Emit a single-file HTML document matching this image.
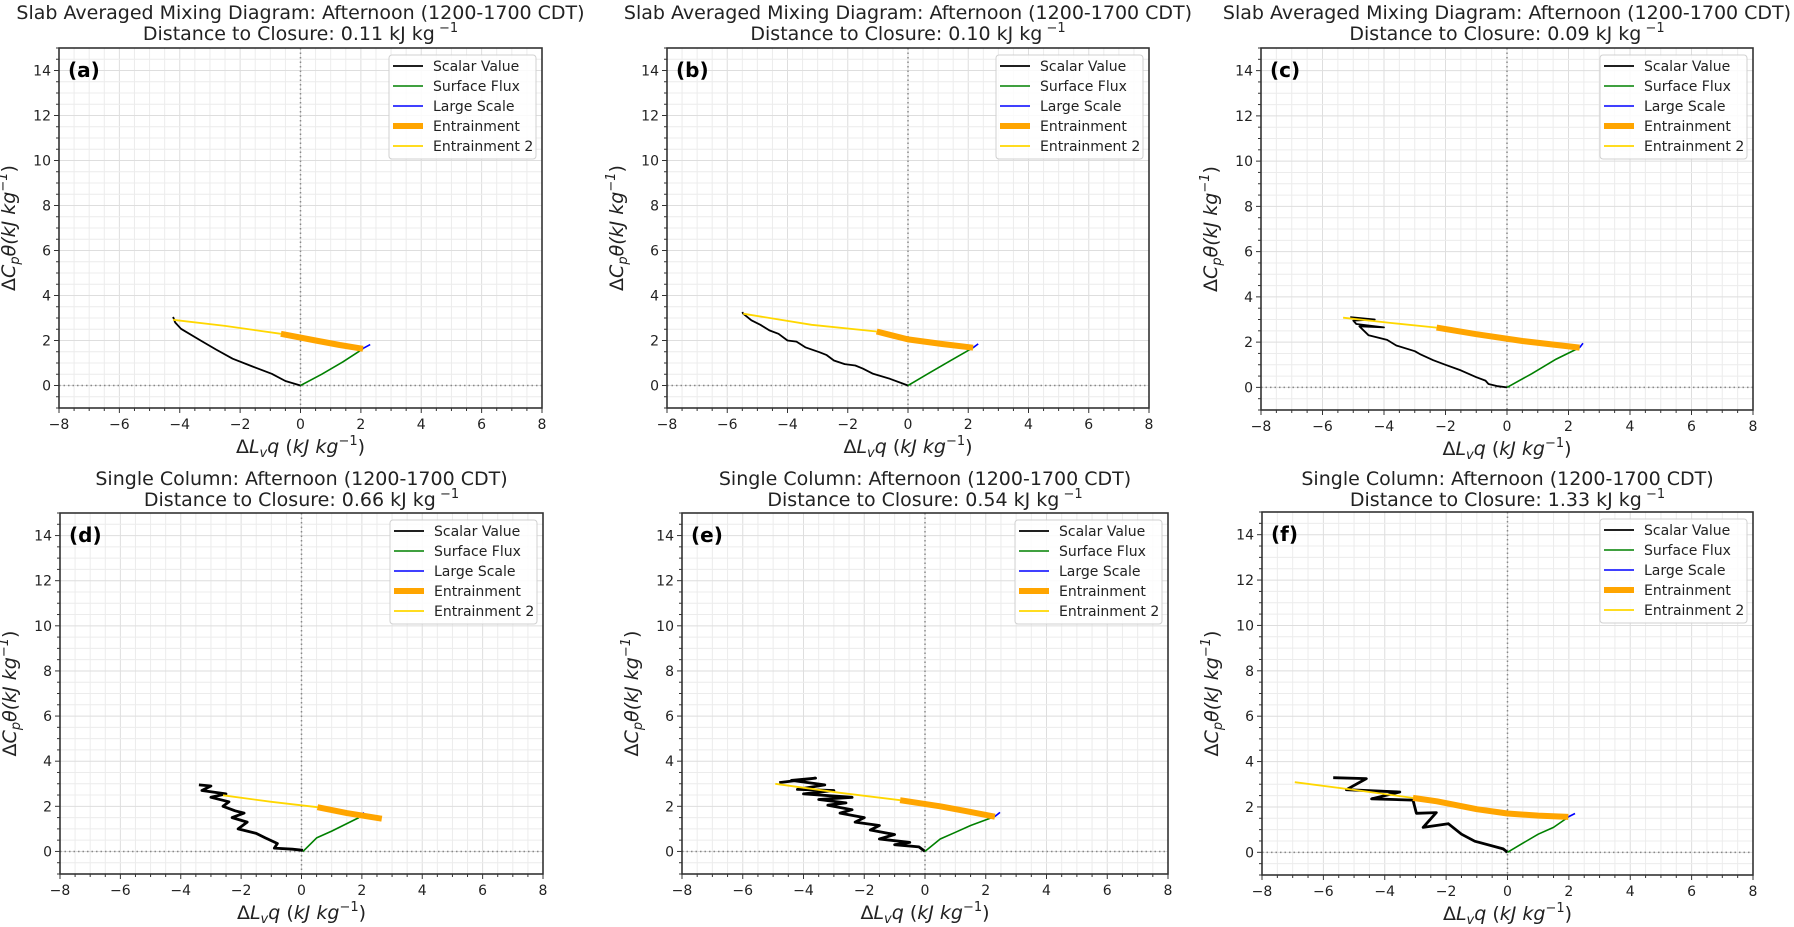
<!DOCTYPE html>
<html><head><meta charset="utf-8"><style>
html,body{margin:0;padding:0;background:#fff;}
svg{display:block;font-family:"DejaVu Sans","Liberation Sans",sans-serif;}
</style></head>
<body>
<svg id="fig" xmlns="http://www.w3.org/2000/svg" width="1794" height="927" viewBox="0 0 1794 927"></svg>
<script>
// ---- data (x = ΔLvq, y = ΔCpθ, kJ/kg) ----
const panelIds = ["a","b","c","d","e","f"];
const closureValues = ["0.11","0.10","0.09","0.66","0.54","1.33"];
const xTicks = [-8,-6,-4,-2,0,2,4,6,8];
const yTicks = [0,2,4,6,8,10,12,14];
const legendLabels = ["Scalar Value","Surface Flux","Large Scale","Entrainment","Entrainment 2"];

const scalarA = [[0,0],[-0.5,0.2],[-0.95,0.52],[-1.6,0.85],[-2.25,1.19],[-2.8,1.6],[-3.31,2.0],[-3.96,2.52],[-4.15,2.8],[-4.22,3.05]];
const surfaceA = [[0,0],[0.7,0.5],[1.4,1.05],[2.07,1.63]];
const largeA = [[2.07,1.65],[2.31,1.82]];
const entrA = [[-0.65,2.3],[0.5,2.0],[1.3,1.8],[2.07,1.63]];
const entr2A = [[-4.22,2.92],[-2.5,2.65],[-0.65,2.3]];

const scalarB = [[0,0],[-0.6,0.3],[-1.16,0.52],[-1.5,0.75],[-1.75,0.89],[-2.1,0.95],[-2.46,1.11],[-2.7,1.35],[-2.94,1.48],[-3.41,1.7],[-3.7,1.95],[-4.0,2.0],[-4.3,2.3],[-4.6,2.45],[-4.9,2.7],[-5.2,2.9],[-5.47,3.19],[-5.5,3.26]];
const surfaceB = [[0,0],[0.7,0.55],[1.4,1.1],[2.16,1.68]];
const largeB = [[2.16,1.68],[2.33,1.85]];
const entrB = [[-1.04,2.4],[0,2.05],[1.1,1.85],[2.16,1.68]];
const entr2B = [[-5.47,3.19],[-3.2,2.7],[-1.04,2.4]];

const scalarC = [[0,0],[-0.3,0.05],[-0.6,0.15],[-0.7,0.3],[-1.0,0.45],[-1.5,0.75],[-2.0,1.0],[-2.4,1.2],[-2.8,1.45],[-3.0,1.6],[-3.6,1.85],[-3.9,2.1],[-4.5,2.3],[-4.8,2.7],[-4.0,2.65],[-4.9,2.8],[-5.0,2.95],[-4.3,3.0],[-5.1,3.1]];
const surfaceC = [[0,0],[0.8,0.6],[1.6,1.25],[2.36,1.76]];
const largeC = [[2.36,1.76],[2.47,1.95]];
const entrC = [[-2.29,2.64],[-1.0,2.35],[0.5,2.05],[2.36,1.76]];
const entr2C = [[-5.33,3.08],[-3.8,2.85],[-2.29,2.64]];

const scalarD = [[0.05,0.05],[-0.3,0.1],[-0.9,0.15],[-0.8,0.35],[-1.2,0.6],[-1.5,0.8],[-2.1,1.0],[-1.8,1.3],[-2.3,1.5],[-1.9,1.7],[-2.2,1.8],[-2.6,2.0],[-2.4,2.2],[-3.0,2.4],[-2.5,2.55],[-3.3,2.7],[-3.0,2.9],[-3.4,2.95]];
const surfaceD = [[0.05,0],[0.5,0.6],[1.0,0.9],[1.9,1.5]];
const largeD = [[1.9,1.55],[2.07,1.72]];
const entrD = [[0.53,1.96],[1.5,1.7],[2.66,1.45]];
const entr2D = [[-2.6,2.49],[-1.0,2.2],[0.53,1.96]];

const scalarE = [[0,0],[-0.2,0.2],[-1.0,0.3],[-0.5,0.4],[-1.5,0.55],[-1.0,0.75],[-1.8,0.95],[-1.5,1.15],[-2.3,1.3],[-2.0,1.5],[-2.8,1.7],[-2.4,1.85],[-3.2,2.05],[-2.6,2.15],[-3.5,2.3],[-2.4,2.4],[-4.0,2.55],[-3.0,2.7],[-4.2,2.75],[-3.3,2.95],[-4.4,3.15],[-3.6,3.25],[-4.8,3.05]];
const surfaceE = [[0,0],[0.5,0.55],[1.0,0.85],[1.5,1.15],[2.3,1.55]];
const largeE = [[2.3,1.55],[2.47,1.73]];
const entrE = [[-0.82,2.27],[0.5,2.0],[1.3,1.8],[2.3,1.54]];
const entr2E = [[-4.93,3.0],[-2.8,2.6],[-0.82,2.27]];

const scalarF = [[0,0],[-0.14,0.15],[-1.07,0.49],[-1.5,0.8],[-1.93,1.26],[-2.75,1.1],[-2.32,1.75],[-2.97,1.72],[-3.08,2.3],[-4.43,2.36],[-3.51,2.66],[-5.25,2.76],[-4.6,3.25],[-5.68,3.29]];
const surfaceF = [[0,0],[0.5,0.4],[1.0,0.8],[1.5,1.1],[1.98,1.55]];
const largeF = [[1.98,1.56],[2.2,1.71]];
const entrF = [[-3.08,2.4],[-2.3,2.25],[-1.0,1.9],[0,1.71],[1.0,1.62],[1.98,1.56]];
const entr2F = [[-6.93,3.09],[-5.0,2.75],[-3.08,2.4]];

const scalarSets = [scalarA,scalarB,scalarC,scalarD,scalarE,scalarF];
const surfaceSets = [surfaceA,surfaceB,surfaceC,surfaceD,surfaceE,surfaceF];
const largeSets = [largeA,largeB,largeC,largeD,largeE,largeF];
const entrSets = [entrA,entrB,entrC,entrD,entrE,entrF];
const entr2Sets = [entr2A,entr2B,entr2C,entr2D,entr2E,entr2F];

// ---- layout ----
const layout = [
 {l:59,r:542,t:48,b:408,row:0},
 {l:667,r:1149,t:48,b:408,row:0},
 {l:1261,r:1753,t:48,b:410,row:0},
 {l:60,r:543,t:513,b:874,row:1},
 {l:682,r:1168,t:513,b:874,row:1},
 {l:1262,r:1753,t:512,b:875,row:1}
];
const NS = "http://www.w3.org/2000/svg";
const svg = document.getElementById("fig");
function mk(tag, parent, attrs){
  const e = document.createElementNS(NS, tag);
  for (const k in attrs) e.setAttribute(k, attrs[k]);
  parent.appendChild(e);
  return e;
}
function fmt(v){ return v < 0 ? "\u2212" + Math.abs(v) : String(v); }

layout.forEach((L, i) => {
  const g = mk("g", svg, {});
  
  
  const sx = v => L.l + (v + 8) / 16 * (L.r - L.l);
  const sy = v => L.b - (v + 1) / 16 * (L.b - L.t);

  const grid = mk("g", g, {});
  
  
  for (let v = -8; v <= 8.001; v += 0.5) {
    const major = Math.abs(v % 2) < 1e-6;
    mk("line", grid, {x1:sx(v),x2:sx(v),y1:L.t,y2:L.b,stroke:major?"#dedede":"#ececec","stroke-width":1});
  }
  for (let v = -1; v <= 15.001; v += 0.5) {
    const major = Math.abs(v % 2) < 1e-6;
    mk("line", grid, {x1:L.l,x2:L.r,y1:sy(v),y2:sy(v),stroke:major?"#dedede":"#ececec","stroke-width":1});
  }
  const zx = mk("line", g, {x1:sx(0),x2:sx(0),y1:L.t,y2:L.b,stroke:"#888","stroke-width":1.5,"stroke-dasharray":"1.5,3"});
  
  
  const zy = mk("line", g, {x1:L.l,x2:L.r,y1:sy(0),y2:sy(0),stroke:"#888","stroke-width":1.5,"stroke-dasharray":"1.5,3"});
  
  

  const bottom = L.row === 1;
  const series = [
    {d:scalarSets[i], c:"#000000", w: bottom ? 2.8 : 1.8, n:"scalar-value-line"},
    {d:surfaceSets[i], c:"#008000", w:1.6, n:"surface-flux-line"},
    {d:largeSets[i], c:"#0000ff", w:1.6, n:"large-scale-line"},
    {d:entrSets[i], c:"#ffa500", w:6, n:"entrainment-line"},
    {d:entr2Sets[i], c:"#ffd700", w:1.8, n:"entrainment-2-line"}
  ];
  series.forEach(s => {
    const p = mk("polyline", g, {points: s.d.map(q => sx(q[0]).toFixed(1)+","+sy(q[1]).toFixed(1)).join(" "), fill:"none", stroke:s.c, "stroke-width":s.w, "stroke-linejoin":"round", "stroke-linecap":"butt"});
    
    
  });

  const fr = mk("rect", g, {x:L.l,y:L.t,width:L.r-L.l,height:L.b-L.t,fill:"none",stroke:"#333","stroke-width":1.6});
  
  

  for (let v = -8; v <= 8.001; v += 0.5) {
    const major = Math.abs(v % 2) < 1e-6;
    mk("line", g, {x1:sx(v),x2:sx(v),y1:L.b,y2:L.b+(major?5:3),stroke:"#333","stroke-width":1});
  }
  for (let v = -1; v <= 15.001; v += 0.5) {
    const major = Math.abs(v % 2) < 1e-6;
    mk("line", g, {x1:L.l,x2:L.l-(major?5:3),y1:sy(v),y2:sy(v),stroke:"#333","stroke-width":1});
  }
  xTicks.forEach(v => {
    const t = mk("text", g, {x:sx(v),y:L.b+21,"font-size":14,"text-anchor":"middle",fill:"#222"});
    t.textContent = fmt(v);
    
    
  });
  yTicks.forEach(v => {
    const t = mk("text", g, {x:L.l-8,y:sy(v)+5,"font-size":14,"text-anchor":"end",fill:"#222"});
    t.textContent = fmt(v);
    
    
  });

  const xl = mk("text", g, {x:(L.l+L.r)/2,y:L.b+45,"font-size":19,"text-anchor":"middle",fill:"#222"});
  
  
  xl.innerHTML = 'Δ<tspan font-style="italic">L</tspan><tspan font-style="italic" font-size="13" dy="4">v</tspan><tspan font-style="italic" dy="-4">q</tspan> (<tspan font-style="italic">kJ kg</tspan><tspan font-size="13" dy="-8">−1</tspan><tspan dy="8">)</tspan>';
  const cy = (L.t + L.b) / 2, cx = L.l - 44;
  const yl = mk("text", g, {x:cx,y:cy,"font-size":19,"text-anchor":"middle",fill:"#222",transform:`rotate(-90 ${cx} ${cy})`});
  
  
  yl.innerHTML = 'Δ<tspan font-style="italic">C</tspan><tspan font-style="italic" font-size="13" dy="4">p</tspan><tspan font-style="italic" dy="-4">θ(kJ kg</tspan><tspan font-style="italic" font-size="13" dy="-8">−1</tspan><tspan dy="8">)</tspan>';

  const tx = (L.l + L.r) / 2;
  const base = L.row === 0 ? 19 : 485;
  const t1 = mk("text", g, {x:tx,y:base,"font-size":19,"text-anchor":"middle",fill:"#222"});
  t1.textContent = L.row === 0 ? "Slab Averaged Mixing Diagram: Afternoon (1200-1700 CDT)" : "Single Column: Afternoon (1200-1700 CDT)";
  
  
  const t2 = mk("text", g, {x:tx,y:base+21,"font-size":19,"text-anchor":"middle",fill:"#222"});
  t2.innerHTML = 'Distance to Closure: ' + closureValues[i] + ' kJ kg<tspan font-size="13" dy="-8"> −1</tspan>';
  
  

  const pl = mk("text", g, {x:L.l+9,y:L.t+29,"font-size":20,"font-weight":"bold",fill:"#000"});
  pl.textContent = "(" + panelIds[i] + ")";
  
  

  const lg = mk("g", g, {});
  
  
  const lx = L.r - 153, ly = L.t + 7;
  mk("rect", lg, {x:lx,y:ly,width:147,height:104,rx:3,fill:"#fff","fill-opacity":0.85,stroke:"#d0d0d0","stroke-width":1});
  const lc = ["#000000","#008000","#0000ff","#ffa500","#ffd700"];
  const lw = [1.8,1.6,1.6,6,1.8];
  legendLabels.forEach((lab, k) => {
    const yy = ly + 11 + 20 * k;
    const h = mk("line", lg, {x1:lx+4,x2:lx+34,y1:yy,y2:yy,stroke:lc[k],"stroke-width":lw[k]});
    
    
    const t = mk("text", lg, {x:lx+44,y:yy+5,"font-size":14,fill:"#222"});
    t.textContent = lab;
    
    
  });
});
</script>
</body></html>
